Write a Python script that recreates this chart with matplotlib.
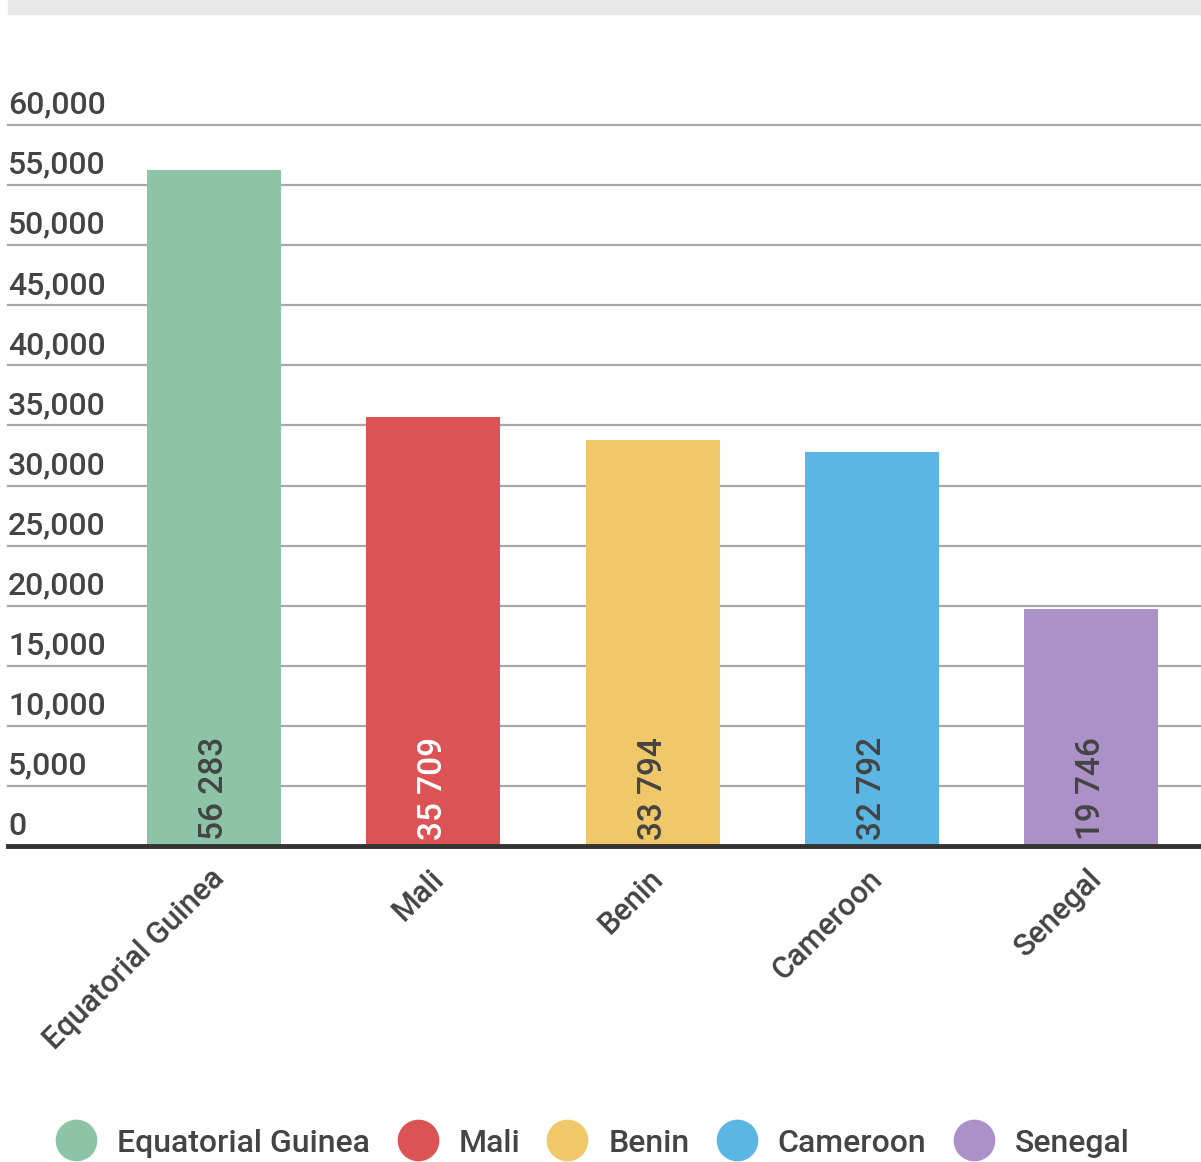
import matplotlib
matplotlib.use("Agg")
import matplotlib.pyplot as plt
from matplotlib.lines import Line2D
from matplotlib.patches import Rectangle
import matplotlib.transforms as mtransforms

plt.rcParams['font.family'] = ['Roboto', 'DejaVu Sans']
plt.rcParams['font.weight'] = 'medium'

countries = ["Equatorial Guinea", "Mali", "Benin", "Cameroon", "Senegal"]
values = [56283, 35709, 33794, 32792, 19746]
colors = ["#8dc3a7", "#dc5356", "#f0c869", "#5cb6e4", "#ac90c8"]
label_colors = ["#444444", "#ffffff", "#444444", "#444444", "#444444"]
yticks = [0, 5000, 10000, 15000, 20000, 25000, 30000, 35000, 40000, 45000, 50000, 55000, 60000]

W, H = 1201, 1162
fig = plt.figure(figsize=(W / 100, H / 100), dpi=100)
fig.patch.set_facecolor("white")

# grey strip at the top
fig.patches.append(Rectangle((8 / W, 1 - 14 / H), 1 - 8 / W, 14 / H,
                             transform=fig.transFigure, color="#e8e8e8", zorder=0))

ax = fig.add_axes([8 / W, (H - 846) / H, (W - 8) / W, (846 - 125) / H])
ax.set_xlim(-0.939, 4.5)
ax.set_ylim(0, 60000)
for s in ax.spines.values():
    s.set_visible(False)
ax.set_xticks([])
ax.set_yticks([])

for t in yticks:
    if t == 0:
        ax.axhline(t, color="#333333", lw=3.5, zorder=3, clip_on=False)
    else:
        ax.axhline(t, color="#a8a8a8", lw=1.6, zorder=1, clip_on=False)
    ax.text(0, t + 450, f"{t:,}", transform=ax.get_yaxis_transform(),
            ha="left", va="bottom", fontsize=23, color="#444444")

x = list(range(len(countries)))
ax.bar(x, values, width=0.611, color=colors, zorder=2)

for xi, v, c in zip(x, values, label_colors):
    ax.text(xi, 500, f"{v:,}".replace(",", " "), rotation=90, ha="center", va="bottom",
            fontsize=24, color=c, zorder=4)

offset = mtransforms.ScaledTranslation(0, -18 / 100, fig.dpi_scale_trans)
for xi, name in zip(x, countries):
    ax.text(xi - 0.02, 0, name, rotation=45, ha="right", va="top", rotation_mode="anchor",
            fontsize=22, color="#444444", transform=ax.transData + offset)

handles = [Line2D([], [], marker="o", ls="", markersize=29, color=c) for c in colors]
fig.legend(handles, countries, loc="center", ncol=5, frameon=False,
           bbox_to_anchor=(0.494, (H - 1143) / H), fontsize=23, labelcolor="#444444",
           handletextpad=0.68, columnspacing=0.88, handlelength=1.2)

fig.savefig("out.png", dpi=100)
